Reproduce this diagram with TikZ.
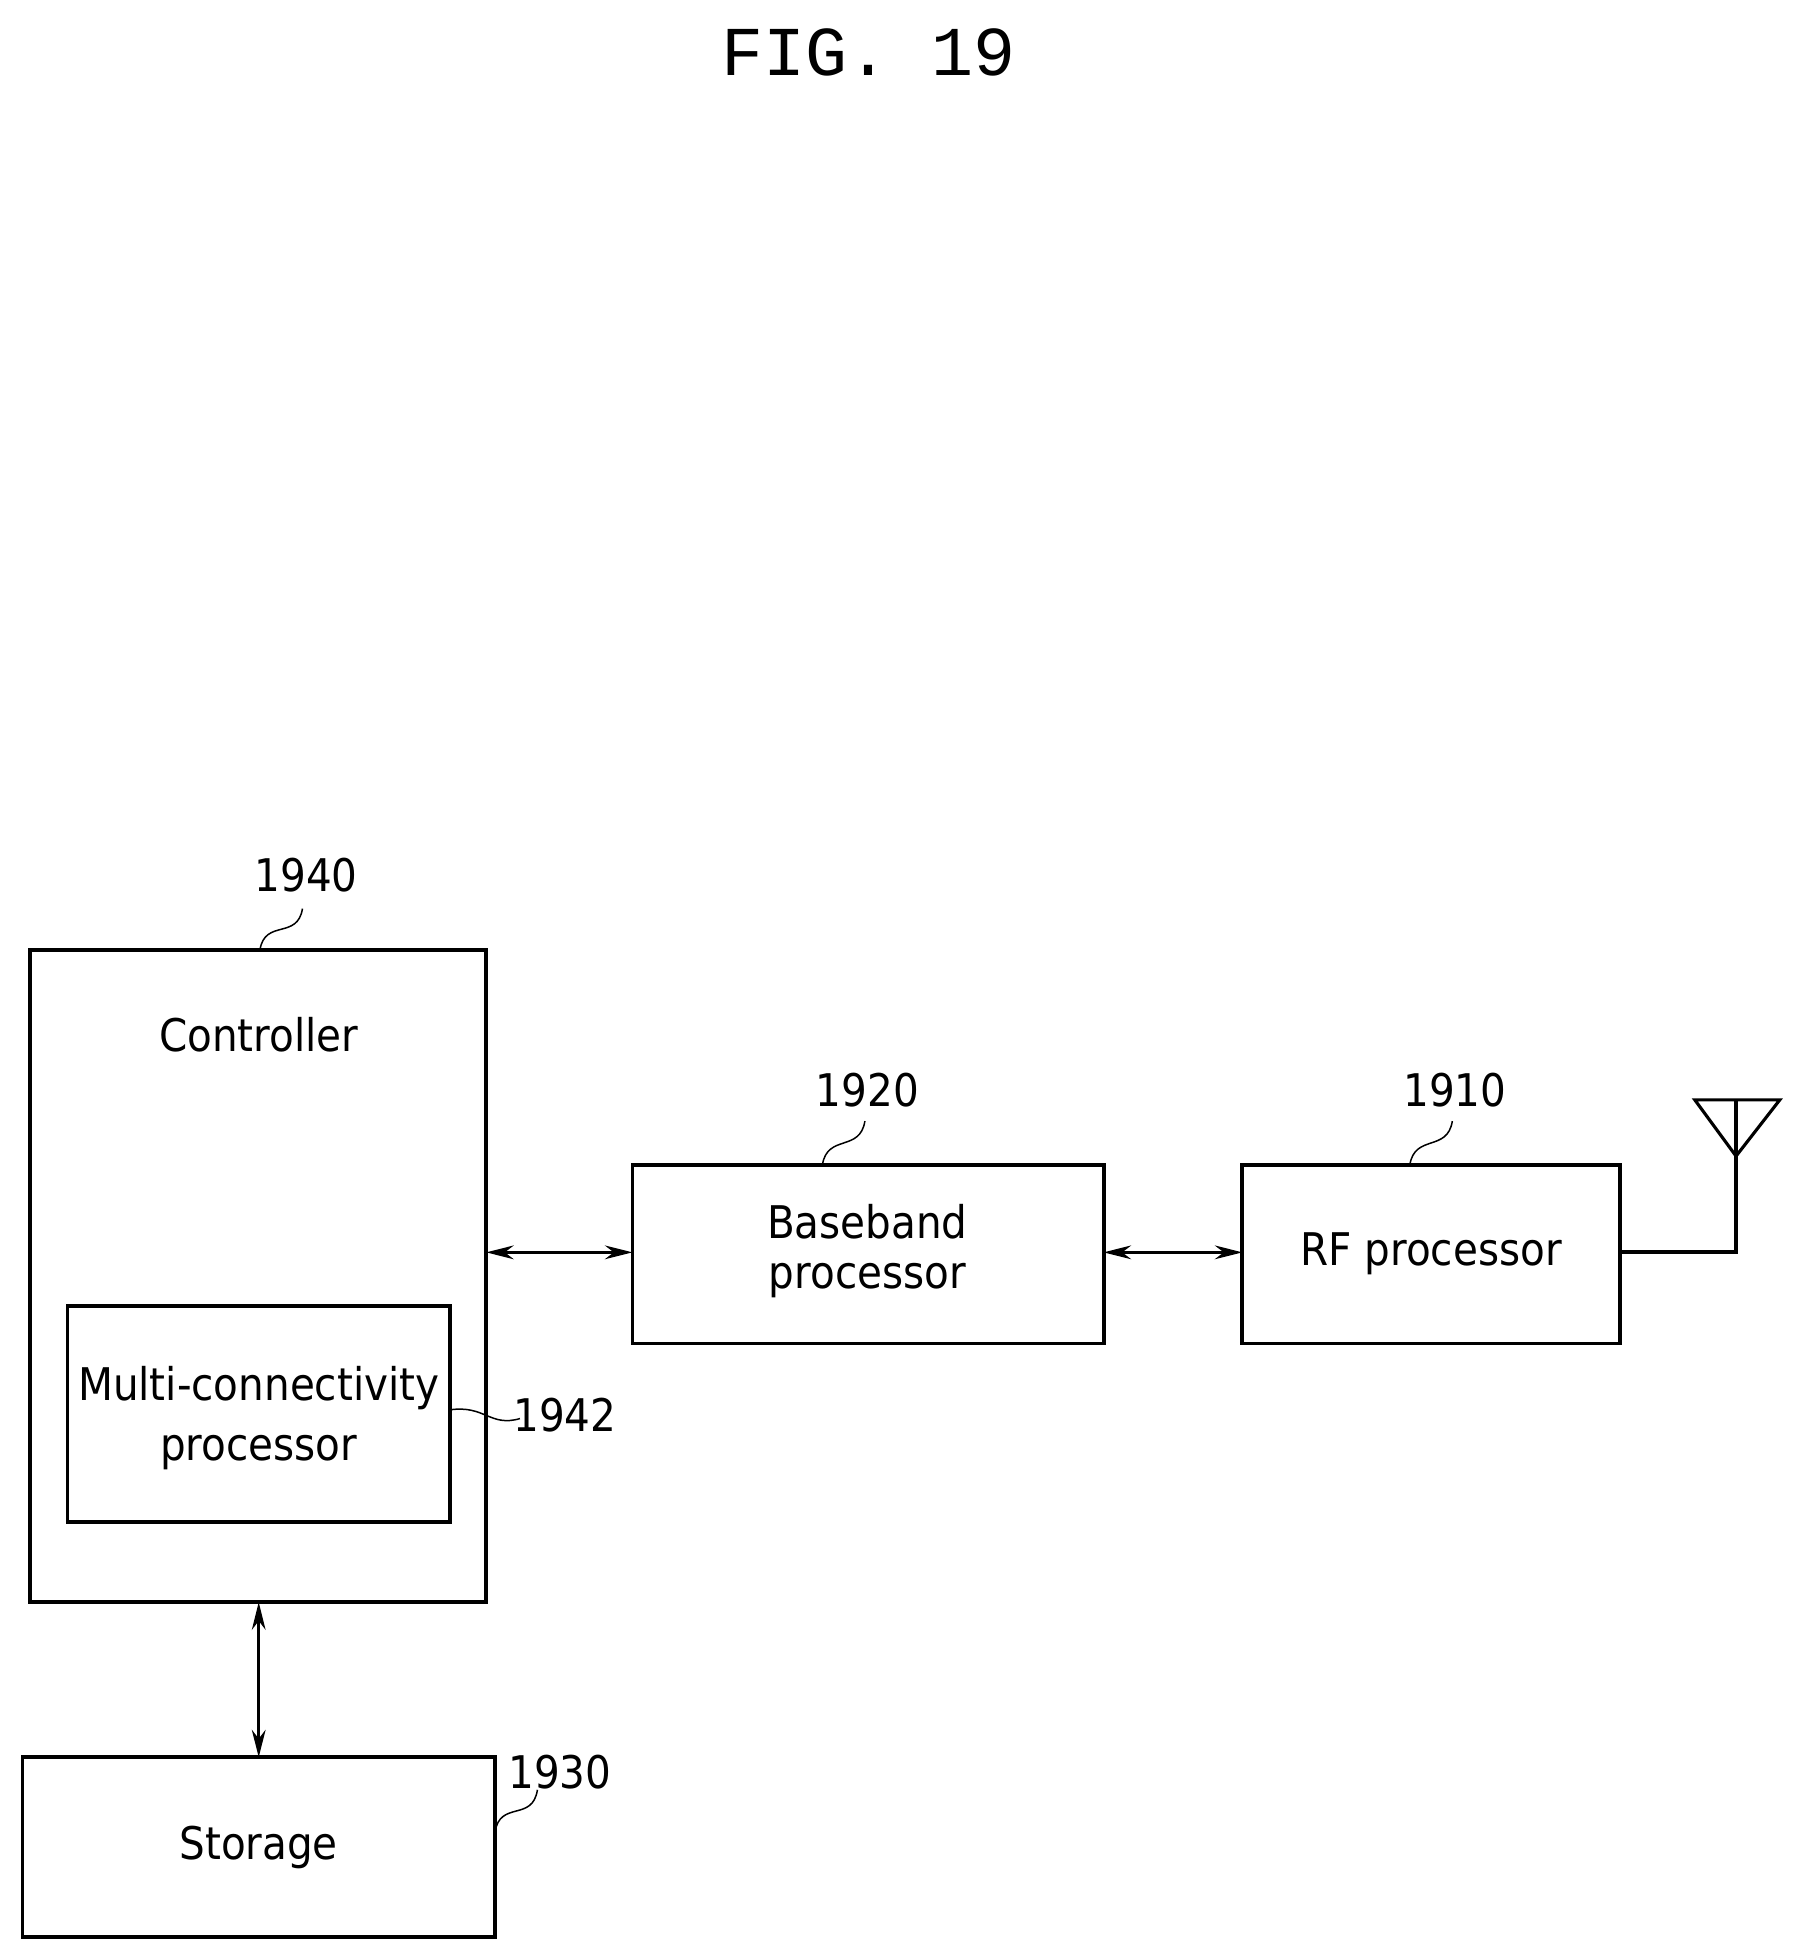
\documentclass[tikz,border=0pt]{standalone}
\usepackage{fontspec}
\setmainfont{DejaVu Sans Condensed}
\newfontfamily\titlefont{Liberation Mono}
\usetikzlibrary{arrows.meta}
\tikzset{blockbox/.style={draw,line width=3pt},
  reflabel/.style={font=\fontsize{36}{40}\selectfont},
  leader/.style={line width=1.2pt},
  link/.style={line width=2.2pt,{Stealth[length=22pt,width=11pt]}-{Stealth[length=22pt,width=11pt]}}}
\begin{document}
\begin{tikzpicture}[x=1pt,y=-1pt,line cap=butt,line join=miter]
\useasboundingbox (0,0) rectangle (1440,1565);
\node[font=\titlefont\fontsize{56}{60}\selectfont] (title) at (695,42) {FIG. 19};
% controller
\draw[blockbox] (24,760) rectangle (389,1282);
\coordinate (ctrlE) at (389,1002);
\coordinate (ctrlS) at (207,1282);
\node[reflabel] (ctrltext) at (207,828) {Controller};
\draw[blockbox] (54,1045) rectangle (360,1218);
\node[reflabel,align=center,text depth=0pt] (mctext) at (207,1131) {Multi-connectivity\\[8pt]processor};
% baseband
\draw[blockbox] (506,932) rectangle (883,1075);
\coordinate (bbW) at (506,1002);
\coordinate (bbE) at (883,1002);
\node[reflabel,align=center] (bbtext) at (694,1001) {Baseband\\processor};
% rf
\draw[blockbox] (994,932) rectangle (1296,1075);
\coordinate (rfW) at (994,1002);
\coordinate (rfE) at (1296,1002);
\node[reflabel] (rftext) at (1145,1003) {RF processor};
% storage
\draw[blockbox] (18,1406) rectangle (396,1550);
\coordinate (stN) at (207,1406);
\node[reflabel] (sttext) at (207,1478) {Storage};
% links
\draw[link] (ctrlE) -- (bbW);
\draw[link] (bbE) -- (rfW);
\draw[link] (ctrlS) -- (stN);
% antenna
\coordinate (antB) at (1389,880);
\draw[line width=3pt] (rfE) -- (1389,1002) -- (antB);
\draw[line width=2.5pt] (1356,880) -- (1424,880) -- (1389,925) -- cycle;
% reference numerals
\node[reflabel] (n1940) at (245,700) {1940};
\draw[leader] (208,760) .. controls (212,735) and (238,752) .. (242,727);
\node[reflabel] (n1920) at (694,872) {1920};
\draw[leader] (658,932) .. controls (662,907) and (688,922) .. (692,897);
\node[reflabel] (n1910) at (1164,872) {1910};
\draw[leader] (1128,932) .. controls (1132,907) and (1158,922) .. (1162,897);
\node[reflabel] (n1942) at (452,1132) {1942};
\draw[leader] (360,1128) .. controls (388,1124) and (392,1142) .. (416,1135);
\node[reflabel] (n1930) at (448,1418) {1930};
\draw[leader] (396,1466) .. controls (400,1440) and (426,1458) .. (430,1432);
\end{tikzpicture}
\end{document}
